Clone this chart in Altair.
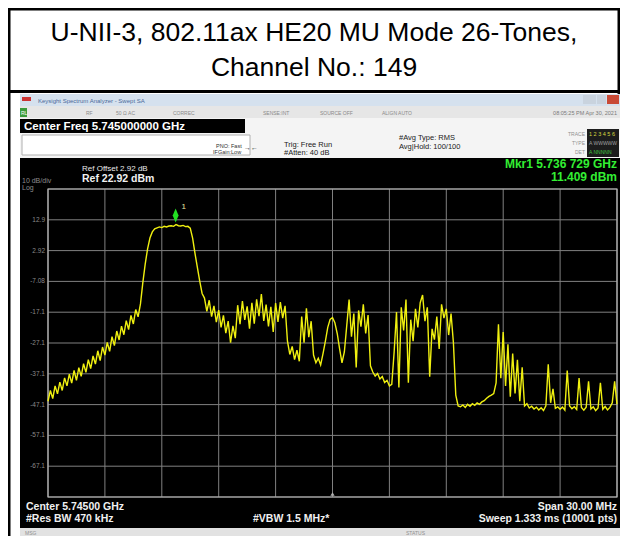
import altair as alt
import pandas as pd

# ---------------- data ----------------
TITLE_1 = "U-NII-3, 802.11ax HE20 MU Mode 26-Tones,"
TITLE_2 = "Channel No.: 149"

# trace: offset from 5.730 GHz in MHz, one reading every 0.125 MHz (0 .. 30 MHz)
STEP_MHZ = 0.125
trace_dbm = [
    -46.0, -42.5, -45.1, -41.0, -43.6, -39.8, -42.5, -38.4, -41.0, -37.2,
    -40.1, -36.0, -39.2, -35.1, -37.9, -33.8, -36.6, -32.5, -35.4, -31.3,
    -33.9, -29.6, -32.8, -28.4, -31.0, -26.9, -29.8, -25.0, -27.9, -23.2,
    -26.1, -21.6, -24.4, -19.8, -22.7, -18.1, -20.9, -16.2, -18.6, -14.4,
    -7.5, -1.5, 3.5, 7.0, 9.0, 10.0,
    10.3, 10.6, 10.4, 10.8, 10.6, 10.9, 11.0, 10.8, 11.4, 11.0, 10.9, 11.1, 10.7, 10.8, 10.2,
    7.0, 2.0, -2.5, -7.0, -11.0,
    -12.5, -16.8, -13.2, -18.5, -15.0, -20.3, -16.4, -22.0, -18.1, -23.9,
    -20.0, -27.0, -21.5, -25.5, -14.8, -21.0, -13.5, -19.6, -15.2, -22.4,
    -14.0, -20.8, -12.9, -18.4, -11.2, -19.9, -14.6, -21.7, -15.3, -23.5,
    -14.1, -20.2, -13.8, -19.0, -15.0, -26.5, -30.8, -28.2, -32.5, -29.4,
    -33.0, -18.5, -27.0, -15.8, -25.2,
    -20.0, -31.0, -33.5, -32.0, -34.2, -30.5, -26.5, -22.0, -19.4, -18.8,
    -20.5, -24.0, -29.0, -33.5, -30.0, -21.5, -13.0, -25.0, -17.5, -35.0,
    -16.5, -21.8, -14.5, -24.0, -18.0, -34.5, -36.5, -37.8, -37.0, -38.8,
    -38.0, -39.9, -39.2, -41.0, -40.5,
    -30.0, -17.0, -41.5, -15.5, -23.0, -13.0, -40.0, -19.5, -26.5, -16.0,
    -22.0, -14.0, -11.5, -20.0, -15.5, -38.0, -22.5, -26.0, -18.5, -29.0,
    -14.5, -19.0, -16.0, -24.5, -17.5, -27.0, -44.0, -47.5,
    -47.8, -47.2, -48.0, -47.0, -47.6, -46.8, -47.3, -46.5, -47.0, -46.2,
    -45.8, -45.0, -44.4, -44.0, -43.5,
    -40.0, -21.0, -38.5, -23.5, -41.0, -27.5, -44.5, -30.5, -43.5, -32.5,
    -46.0, -35.0, -47.5, -46.8, -48.2, -47.6, -48.5, -47.9, -48.8, -48.1,
    -49.0, -47.5, -34.0, -46.5, -42.0, -48.3, -47.8, -48.6, -47.9, -48.9,
    -36.0, -47.5, -48.4, -47.8, -48.7, -38.5, -48.0, -48.9, -47.9, -39.5,
    -48.5, -47.8, -49.0, -48.2, -40.0, -48.6, -47.7, -48.8, -48.0, -46.5,
    -39.5, -47.0,
]
trace_mhz = [i * STEP_MHZ for i in range(len(trace_dbm))]

freq_ticks_mhz = [0, 3, 6, 9, 12, 15, 18, 21, 24, 27, 30]
level_lines = [22.92, 12.92, 2.92, -7.08, -17.08, -27.08, -37.08, -47.08, -57.08, -67.08, -77.08]
level_labels = ["", "12.9", "2.92", "-7.08", "-17.1", "-27.1", "-37.1", "-47.1", "-57.1", "-67.1", ""]
marker_mhz = [6.729]
marker_dbm = [11.409]

# ---------------- scales ----------------
FONT = "Liberation Sans"
xs = alt.Scale(domain=[0, 30], range=[40, 609], nice=False, zero=False)
ys = alt.Scale(domain=[-77.08, 22.92], range=[489, 181], nice=False, zero=False)
ONE = alt.Data(values=[{"k": 0}])


def box(x1, y1, x2, y2, fill, stroke=None, sw=0):
    kw = dict(fill=fill)
    if stroke:
        kw.update(stroke=stroke, strokeWidth=sw)
    return alt.Chart(ONE).mark_rect(**kw).encode(
        x=alt.value(x1), x2=alt.value(x2), y=alt.value(y1), y2=alt.value(y2))


def label(text, x, y, size, color, bold=False, align="left"):
    return alt.Chart(ONE).mark_text(
        text=text, fontSize=size, color=color, font=FONT,
        fontWeight="bold" if bold else "normal", align=align, baseline="alphabetic",
    ).encode(x=alt.value(x), y=alt.value(y))


layers = []
# title block and frame
layers += [
    box(0, 0, 612, 528, "white"),
    box(0, 0, 2.5, 528, "black"),
    box(0, 0, 612, 2.5, "black"),
    box(609.5, 0, 612, 86, "black"),
    box(0, 82, 612, 85, "black"),
    label(TITLE_1, 306, 33, 26.5, "black", align="center"),
    label(TITLE_2, 306, 68, 26.5, "black", align="center"),
]

# screenshot: window chrome
layers += [
    box(12, 86, 612, 98, "#d5e1ee"),
    box(14, 89, 23, 93, "#cc3333"),
    label("Keysight Spectrum Analyzer - Swept SA", 30, 95, 6, "#4a6a9a"),
    box(575, 87, 588, 96, "#c9d3de"),
    box(589, 87, 598, 96, "#c9d3de"),
    box(599, 87, 611, 96, "#c94a36"),
    box(12, 98, 612, 110, "#e6e6e6"),
    box(12, 100, 19, 109, "#3b9b3b"),
    label("RL", 13, 107, 5, "#ffffff"),
    label("RF", 78, 107, 5, "#8a8a8a"),
    label("50 \u03a9   AC", 108, 107, 5, "#8a8a8a"),
    label("CORREC", 165, 107, 5, "#8a8a8a"),
    label("SENSE:INT", 255, 107, 5, "#8a8a8a"),
    label("SOURCE OFF", 312, 107, 5, "#8a8a8a"),
    label("ALIGN AUTO", 374, 107, 5, "#8a8a8a"),
    label("08:05:25 PM Apr 30, 2021", 609, 107, 5.5, "#7a7a7a", align="right"),
    box(12, 110, 612, 150, "#f4f4f4"),
    box(12, 111, 237, 125, "black"),
    label("Center Freq 5.745000000 GHz", 16, 122, 11.5, "white", bold=True),
    box(14, 127, 242, 147, "white", stroke="#b0b0b0", sw=1),
    label("PNO: Fast", 208, 140, 5.5, "#303030"),
    label("IFGain:Low", 205, 146, 5.5, "#303030"),
    label("\u2192\u2190", 236, 142, 7, "#303030"),
    label("Trig: Free Run", 276, 139, 7.5, "#202020"),
    label("#Atten: 40 dB", 276, 147, 7.5, "#202020"),
    label("#Avg Type: RMS", 391, 132, 7.5, "#202020"),
    label("Avg|Hold: 100/100", 391, 141, 7.5, "#202020"),
    label("TRACE", 577, 128, 5, "#909090", align="right"),
    label("TYPE", 577, 137, 5, "#909090", align="right"),
    label("DET", 577, 146, 5, "#909090", align="right"),
    box(579, 121, 611, 149, "#1c1c1c"),
    label("1 2 3 4 5 6", 581, 128, 5.5, "#d8d840"),
    label("A WWWWW", 581, 137, 5, "#a0a0a0"),
    label("A NNNNN", 581, 146, 5, "#40c040"),
]

# screenshot: display area
layers += [
    box(12, 150, 612, 520, "black"),
    box(12, 520, 612, 528, "#e2e2e2"),
    label("MSG", 17, 527, 5, "#909090"),
    label("STATUS", 398, 527, 5, "#909090"),
    label("Ref Offset 2.92 dB", 74, 163, 8, "#e8e8e8"),
    label("10 dB/div", 14, 175, 7, "#8c8c8c"),
    label("Ref 22.92 dBm", 74, 174, 10.5, "#f0f0f0", bold=True),
    label("Log", 14, 182, 7, "#8c8c8c"),
    label("Mkr1 5.736 729 GHz", 609, 160, 12, "#33ee33", bold=True, align="right"),
    label("11.409 dBm", 609, 173, 12, "#33ee33", bold=True, align="right"),
    label("Center 5.74500 GHz", 18, 502, 10.5, "#f0f0f0", bold=True),
    label("#Res BW 470 kHz", 18, 514, 10.5, "#f0f0f0", bold=True),
    label("#VBW 1.5 MHz*", 245, 514, 10.5, "#f0f0f0", bold=True),
    label("Span 30.00 MHz", 609, 502, 10.5, "#f0f0f0", bold=True, align="right"),
    label("Sweep  1.333 ms (10001 pts)", 609, 514, 10.5, "#f0f0f0", bold=True, align="right"),
]

# grid
vdf = pd.DataFrame({"f": freq_ticks_mhz, "top": level_lines[0], "bot": level_lines[-1]})
hdf = pd.DataFrame({"lvl": level_lines, "lab": level_labels,
                    "lo": freq_ticks_mhz[0], "hi": freq_ticks_mhz[-1]})
layers.append(alt.Chart(vdf).mark_rule(color="#808080", strokeWidth=1).encode(
    x=alt.X("f:Q", scale=xs, axis=None),
    y=alt.Y("top:Q", scale=ys, axis=None), y2="bot:Q"))
layers.append(alt.Chart(hdf).mark_rule(color="#808080", strokeWidth=1).encode(
    y=alt.Y("lvl:Q", scale=ys, axis=None),
    x=alt.X("lo:Q", scale=xs, axis=None), x2="hi:Q"))
layers.append(alt.Chart(hdf).mark_text(
    align="right", baseline="middle", fontSize=6.5, color="#8a8a8a", font=FONT, dx=-3
).encode(x=alt.X("lo:Q", scale=xs, axis=None),
         y=alt.Y("lvl:Q", scale=ys, axis=None), text="lab:N"))
# grid border
layers.append(alt.Chart(pd.DataFrame({"lo": [0], "hi": [30], "top": [22.92], "bot": [-77.08]}))
              .mark_rect(fill=None, stroke="#b8b8b8", strokeWidth=1.2).encode(
    x=alt.X("lo:Q", scale=xs, axis=None), x2="hi:Q",
    y=alt.Y("top:Q", scale=ys, axis=None), y2="bot:Q"))
# center markers
layers.append(alt.Chart(pd.DataFrame({"f": [15], "v": [-77.08]})).mark_point(
    shape="triangle-up", filled=True, color="#b0b0b0", size=18, yOffset=-3, opacity=1).encode(
    x=alt.X("f:Q", scale=xs, axis=None), y=alt.Y("v:Q", scale=ys, axis=None)))

# trace
tdf = pd.DataFrame({"f": trace_mhz, "dbm": trace_dbm})
layers.append(alt.Chart(tdf).mark_line(color="#f0f010", strokeWidth=1.4).encode(
    x=alt.X("f:Q", scale=xs, axis=None), y=alt.Y("dbm:Q", scale=ys, axis=None)))

# marker
mdf = pd.DataFrame({"f": marker_mhz, "dbm": marker_dbm})
layers.append(alt.Chart(mdf).mark_point(
    shape="M0,-1L0.42,0L0,1L-0.42,0Z", filled=True, color="#22e022", size=196,
    yOffset=-9, opacity=1).encode(
    x=alt.X("f:Q", scale=xs, axis=None), y=alt.Y("dbm:Q", scale=ys, axis=None)))
layers.append(alt.Chart(mdf).mark_text(
    text="1", fontSize=8, color="#e6e6a0", font=FONT, dx=8, dy=-17).encode(
    x=alt.X("f:Q", scale=xs, axis=None), y=alt.Y("dbm:Q", scale=ys, axis=None)))

chart = alt.layer(*layers).properties(
    width=612, height=528, padding=0,
    autosize=alt.AutoSizeParams(type="none"), background="white",
).configure_view(stroke=None)

chart.save("out.html", embed_options={"renderer": "svg", "actions": False})
